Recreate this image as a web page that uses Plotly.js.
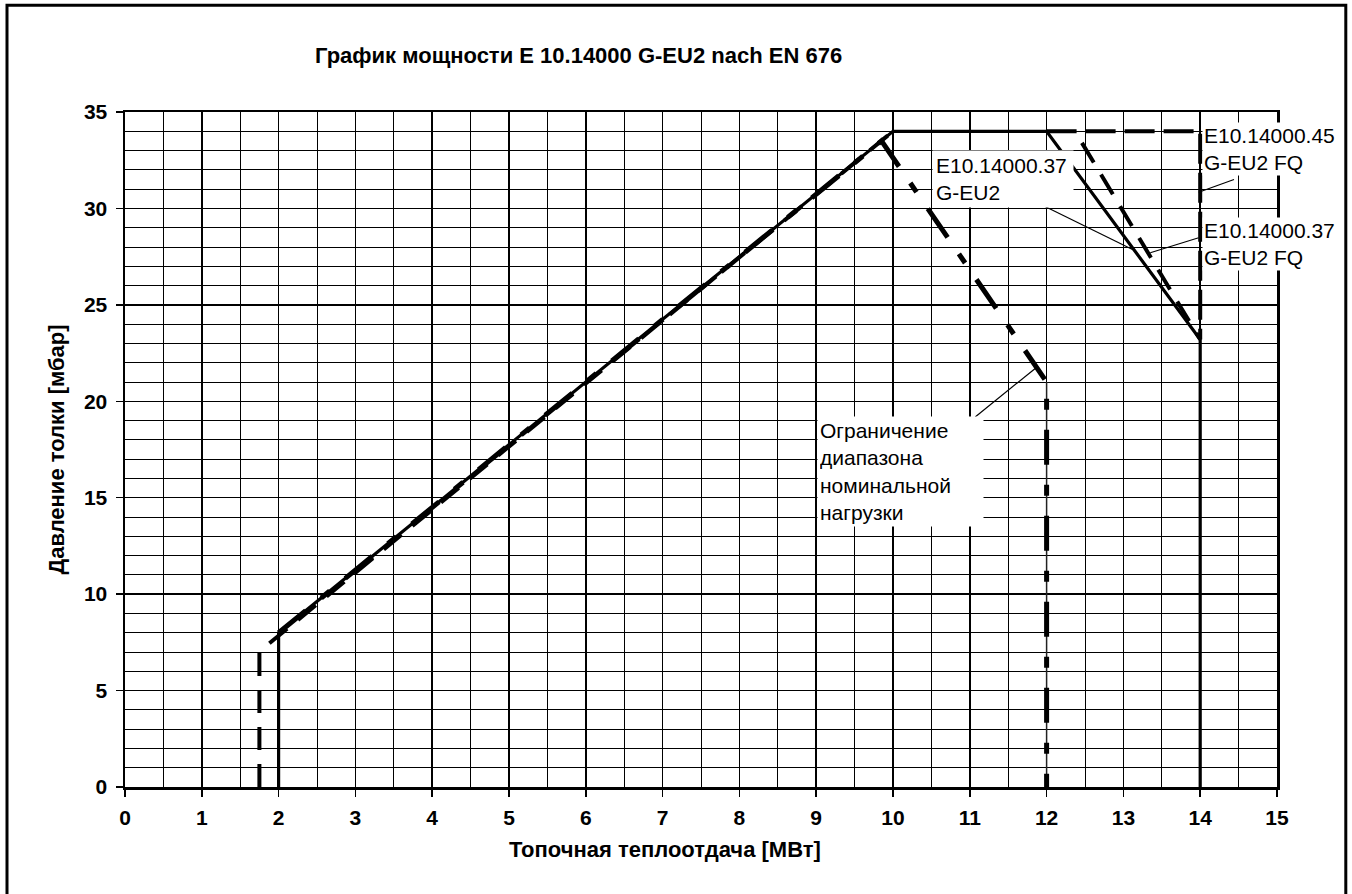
<!DOCTYPE html>
<html>
<head>
<meta charset="utf-8">
<script src="https://cdn.plot.ly/plotly-3.0.1.min.js"></script>
<style>html,body{margin:0;padding:0;background:#fff;}#chart{width:1352px;height:894px;}</style>
</head>
<body>
<div id="chart"></div>
<script>
// ---- data ----
const titleText = 'График мощности E 10.14000 G-EU2 nach EN 676';
const xTitleText = 'Топочная теплоотдача [МВт]';
const yTitleText = 'Давление толки [мбар]';

// E10.14000.37 G-EU2 (solid)
const xSolid = [2, 2, 10, 12, 14, 14];
const ySolid = [0, 8, 34, 34, 23.2, 0];

// E10.14000.37 G-EU2 FQ (dashed)
const xFQ37 = [1.75, 1.75, null, 1.88, 10, null, 12.46, 14];
const yFQ37 = [0, 7.0, null, 7.45, 34, null, 33.4, 23.2];

// E10.14000.45 G-EU2 FQ (dashed)
const xFQ45 = [12, 14, 14];
const yFQ45 = [34, 34, 23.2];

// Ограничение диапазона номинальной нагрузки (dash-dot)
const xLimit = [2, 9.85, 12, 12];
const yLimit = [8, 33.5, 21, 0];

// thin drop line under the limit
const xDrop = [12, 12];
const yDrop = [0, 21];

const xTicks = [0,1,2,3,4,5,6,7,8,9,10,11,12,13,14,15];
const yTicks = [0,5,10,15,20,25,30,35];

const labelFQ45 = 'E10.14000.45<br>G-EU2 FQ';
const labelFQ37 = 'E10.14000.37<br>G-EU2 FQ';
const labelSolid = 'E10.14000.37<br>G-EU2';
const labelLimit = 'Ограничение<br>диапазона<br>номинальной<br>нагрузки';

// ---- chart ----
const FONT = 'Liberation Sans, Arial, Helvetica, sans-serif';

const traces = [
  {x: xDrop, y: yDrop, mode: 'lines', line: {color: '#222', width: 1.5}, hoverinfo: 'skip', showlegend: false},
  {x: xFQ37, y: yFQ37, mode: 'lines', line: {color: '#000', width: 4, dash: '23px,14px'}, connectgaps: false, showlegend: false, name: 'E10.14000.37 G-EU2 FQ'},
  {x: xFQ45, y: yFQ45, mode: 'lines', line: {color: '#000', width: 4, dash: '30px,9px'}, showlegend: false, name: 'E10.14000.45 G-EU2 FQ'},
  {x: xLimit, y: yLimit, mode: 'lines', line: {color: '#000', width: 5, dash: '35px,20px,11px,20px'}, showlegend: false, name: 'Ограничение'},
  {x: xSolid, y: ySolid, mode: 'lines', line: {color: '#000', width: 3.2}, showlegend: false, name: 'E10.14000.37 G-EU2'}
];

const annFont = {family: FONT, size: 21, color: '#000'};

const layout = {
  width: 1352, height: 894,
  margin: {l: 125, r: 75, t: 112, b: 107, pad: 0},
  paper_bgcolor: '#fff', plot_bgcolor: '#fff',
  showlegend: false,
  title: {
    text: titleText,
    font: {family: FONT, size: 22, color: '#000', weight: 'bold'},
    xref: 'container', yref: 'container',
    x: 315 / 1352, xanchor: 'left',
    y: 1 - 55 / 894, yanchor: 'middle'
  },
  xaxis: {
    range: [0, 15], tickmode: 'array', tickvals: xTicks, ticktext: xTicks.map(String),
    ticks: 'outside', ticklen: 7, tickwidth: 1.5, tickcolor: '#000', ticklabelstandoff: 3,
    tickfont: {family: FONT, size: 21, color: '#000', weight: 'bold'},
    showgrid: true, gridcolor: '#000', gridwidth: 1.5,
    minor: {dtick: 0.5, tick0: 0, showgrid: true, gridcolor: '#000', gridwidth: 1, ticks: ''},
    showline: true, linecolor: '#000', linewidth: 2.5, mirror: true,
    zeroline: false, fixedrange: true
  },
  yaxis: {
    range: [0, 35], tickmode: 'array', tickvals: yTicks, ticktext: yTicks.map(String),
    ticks: 'outside', ticklen: 7, tickwidth: 1.5, tickcolor: '#000', ticklabelstandoff: 4,
    tickfont: {family: FONT, size: 21, color: '#000', weight: 'bold'},
    showgrid: true, gridcolor: '#000', gridwidth: 1.5,
    minor: {dtick: 1, tick0: 0, showgrid: true, gridcolor: '#000', gridwidth: 1, ticks: ''},
    showline: true, linecolor: '#000', linewidth: 2.5, mirror: true,
    zeroline: false, fixedrange: true
  },
  annotations: [
    {text: xTitleText, xref: 'paper', yref: 'paper', x: (665 - 125) / 1152, y: (787 - 849) / 675,
     xanchor: 'center', yanchor: 'middle', showarrow: false,
     font: {family: FONT, size: 22, color: '#000', weight: 'bold'}},
    {text: yTitleText, xref: 'paper', yref: 'paper', x: (56 - 125) / 1152, y: 0.5,
     xanchor: 'center', yanchor: 'middle', showarrow: false, textangle: -90,
     font: {family: FONT, size: 22, color: '#000', weight: 'bold'}},
    {text: labelFQ45, xref: 'x', yref: 'y', x: 14.02, y: 33.1, xanchor: 'left', yanchor: 'middle',
     align: 'left', showarrow: false, bgcolor: '#fff', borderpad: 1, width: 136, font: annFont},
    {text: labelFQ37, xref: 'x', yref: 'y', x: 14.02, y: 28.17, xanchor: 'left', yanchor: 'middle',
     align: 'left', showarrow: false, bgcolor: '#fff', borderpad: 1, width: 136, font: annFont},
    {text: labelSolid, xref: 'x', yref: 'y', x: 10.51, y: 31.52, xanchor: 'left', yanchor: 'middle',
     align: 'left', showarrow: false, bgcolor: '#fff', borderpad: 3, width: 134, font: annFont},
    {text: labelLimit, xref: 'x', yref: 'y', x: 9.006, y: 16.34, xanchor: 'left', yanchor: 'middle',
     align: 'left', showarrow: false, bgcolor: '#fff', borderpad: 2, width: 161, font: annFont}
  ],
  shapes: [
    // outer frame of the picture
    {type: 'rect', xref: 'paper', yref: 'paper', x0: (7 - 125) / 1152, x1: (1345.8 - 125) / 1152,
     y0: -0.3, y1: (787 - 5.3) / 675, line: {color: '#000', width: 3}, fillcolor: 'rgba(0,0,0,0)'},
    // leader lines
    {type: 'line', xref: 'x', yref: 'y', x0: 14.44, y0: 31.5, x1: 13.98, y1: 30.84, line: {color: '#000', width: 1.2}},
    {type: 'line', xref: 'x', yref: 'y', x0: 13.98, y0: 28.48, x1: 13.35, y1: 27.7, line: {color: '#000', width: 1.2}},
    {type: 'line', xref: 'x', yref: 'y', x0: 11.98, y0: 30.1, x1: 13.125, y1: 27.86, line: {color: '#000', width: 1.2}},
    {type: 'line', xref: 'x', yref: 'y', x0: 11.07, y0: 19.19, x1: 11.86, y1: 21.73, line: {color: '#000', width: 1.2}}
  ]
};

Plotly.newPlot('chart', traces, layout, {displayModeBar: false, staticPlot: true});
</script>
</body>
</html>
